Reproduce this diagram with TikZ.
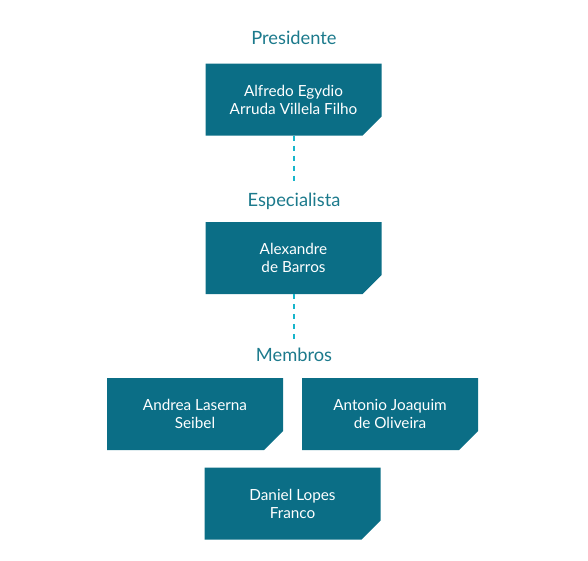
\documentclass[tikz,border=0pt]{standalone}
\usepackage{fontspec}
\setmainfont{Lato}
\usetikzlibrary{shapes.misc}
\definecolor{boxc}{HTML}{0B6E86}
\definecolor{labc}{HTML}{1C7A8C}
\definecolor{dashc}{HTML}{17B5CB}
\tikzset{
  person/.style={chamfered rectangle, chamfered rectangle corners=south east,
    chamfered rectangle xsep=9.5pt, chamfered rectangle ysep=9.5pt,
    fill=boxc, draw=none, text=white, inner sep=0pt,
    minimum width=176pt, minimum height=72pt, align=center,
    font=\fontsize{15.3}{18}\selectfont},
  role/.style={text=labc, inner sep=0pt, font=\fontsize{18.3}{21}\selectfont},
  link/.style={draw=dashc, line width=2pt, dash pattern=on 5pt off 5pt}
}
\begin{document}
\begin{tikzpicture}[x=1pt,y=-1pt]
\useasboundingbox (0,0) rectangle (588,560);
\node[role] (l1) at (294,38) {Presidente};
\node[person] (b1) at (293.5,99.5) {Alfredo Egydio\\Arruda Villela Filho};
\node[role] (l2) at (294,201) {Especialista};
\node[person] (b2) at (293.5,258) {Alexandre\\de Barros};
\node[role] (l3) at (294,355) {Membros};
\node[person] (b3) at (195,414) {Andrea Laserna\\Seibel};
\node[person] (b4) at (390,414) {Antonio Joaquim\\de Oliveira};
\node[person] (b5) at (292.5,503.5) {Daniel Lopes\\Franco};
\coordinate (e1) at (294,184);
\coordinate (e2) at (294,344);
\draw[link] (b1.south -| e1) -- (e1);
\draw[link] (b2.south -| e2) -- (e2);
\end{tikzpicture}
\end{document}
